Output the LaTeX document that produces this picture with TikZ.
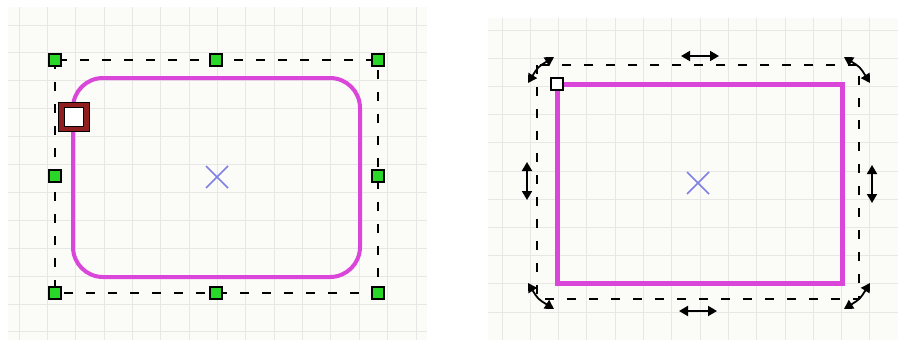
\documentclass[tikz,border=0pt]{standalone}
\usetikzlibrary{arrows.meta}
\definecolor{panelbg}{RGB}{251,251,247}
\definecolor{gridc}{RGB}{231,231,229}
\definecolor{mag}{RGB}{218,70,218}
\definecolor{xblue}{RGB}{128,128,230}
\definecolor{hgreen}{RGB}{40,215,40}
\definecolor{hred}{RGB}{145,30,30}
\begin{document}
\begin{tikzpicture}[x=1pt,y=-1pt,
  gridline/.style={draw=gridc,line width=1pt},
  selbox/.style={draw=black,line width=1.8pt,dash pattern=on 9pt off 13pt},
  shapeline/.style={draw=mag,line width=4pt},
  greenhandle/.style={draw=black,line width=2.5pt,fill=hgreen,minimum size=12pt,inner sep=0pt,shape=rectangle},
  dblarrow/.style={draw=black,line width=1.8pt,{Triangle[length=9pt,width=10pt]}-{Triangle[length=9pt,width=10pt]}},
  centermark/.style={draw=xblue,line width=1.5pt}]
\useasboundingbox (0,0) rectangle (898,340);
\fill[white] (0,0) rectangle (898,340);
% ---------- left panel ----------
\fill[panelbg] (8,7) rectangle (427,340);
\foreach \i in {0,...,14} \draw[gridline] ({19+28.36*\i},7) -- ({19+28.36*\i},340);
\foreach \j in {0,...,11} \draw[gridline] (8,{25+27.9*\j}) -- (427,{25+27.9*\j});
\draw[selbox] (55,60) rectangle (378,293);
\draw[shapeline,rounded corners=30pt] (73,78) rectangle (360,277);
\draw[centermark] (206,166) -- (228,188) (206,188) -- (228,166);
\foreach \p/\q [count=\k] in {55/60,216/60,378/60,55/176,378/176,55/293,216/293,378/293}
  \node[greenhandle] (g\k) at (\p,\q) {};
\node[draw=black,line width=0.8pt,fill=hred,minimum width=31pt,minimum height=29pt,inner sep=0pt] (rh) at (74,117) {};
\node[draw=black,line width=1pt,fill=white,minimum width=19pt,minimum height=19pt,inner sep=0pt] (rhi) at (74,117) {};
% ---------- right panel ----------
\fill[panelbg] (488,18) rectangle (898,340);
\foreach \i in {0,...,13} \draw[gridline] ({502+28.3*\i},18) -- ({502+28.3*\i},340);
\foreach \j in {0,...,10} \draw[gridline] (488,{30+28.2*\j}) -- (898,{30+28.2*\j});
\draw[selbox] (537,65) rectangle (859,299);
\draw[draw=mag,line width=5pt,miter limit=10] (557,84) rectangle (842,283);
\draw[centermark] (687,172) -- (709,194) (687,194) -- (709,172);
\node[draw=black,line width=1.5pt,fill=white,minimum size=12pt,inner sep=0pt] (wh) at (557,84) {};
\coordinate (ta) at (681,56); \coordinate (tb) at (719,56);
\coordinate (ba) at (679,311); \coordinate (bb) at (717,311);
\coordinate (la) at (527,162); \coordinate (lb) at (527,200);
\coordinate (ra) at (872,165); \coordinate (rb) at (872,203);
\draw[dblarrow] (ta) -- (tb);
\draw[dblarrow] (ba) -- (bb);
\draw[dblarrow] (la) -- (lb);
\draw[dblarrow] (ra) -- (rb);
\coordinate (c1a) at (528,83); \coordinate (c1b) at (554,57);
\coordinate (c2a) at (844,57); \coordinate (c2b) at (870,83);
\coordinate (c3a) at (528,283); \coordinate (c3b) at (554,309);
\coordinate (c4a) at (844,309); \coordinate (c4b) at (870,283);
\draw[dblarrow] (c1a) .. controls (538,67) .. (c1b);
\draw[dblarrow] (c2a) .. controls (860,67) .. (c2b);
\draw[dblarrow] (c3a) .. controls (538,299) .. (c3b);
\draw[dblarrow] (c4a) .. controls (860,299) .. (c4b);
\end{tikzpicture}
\end{document}
